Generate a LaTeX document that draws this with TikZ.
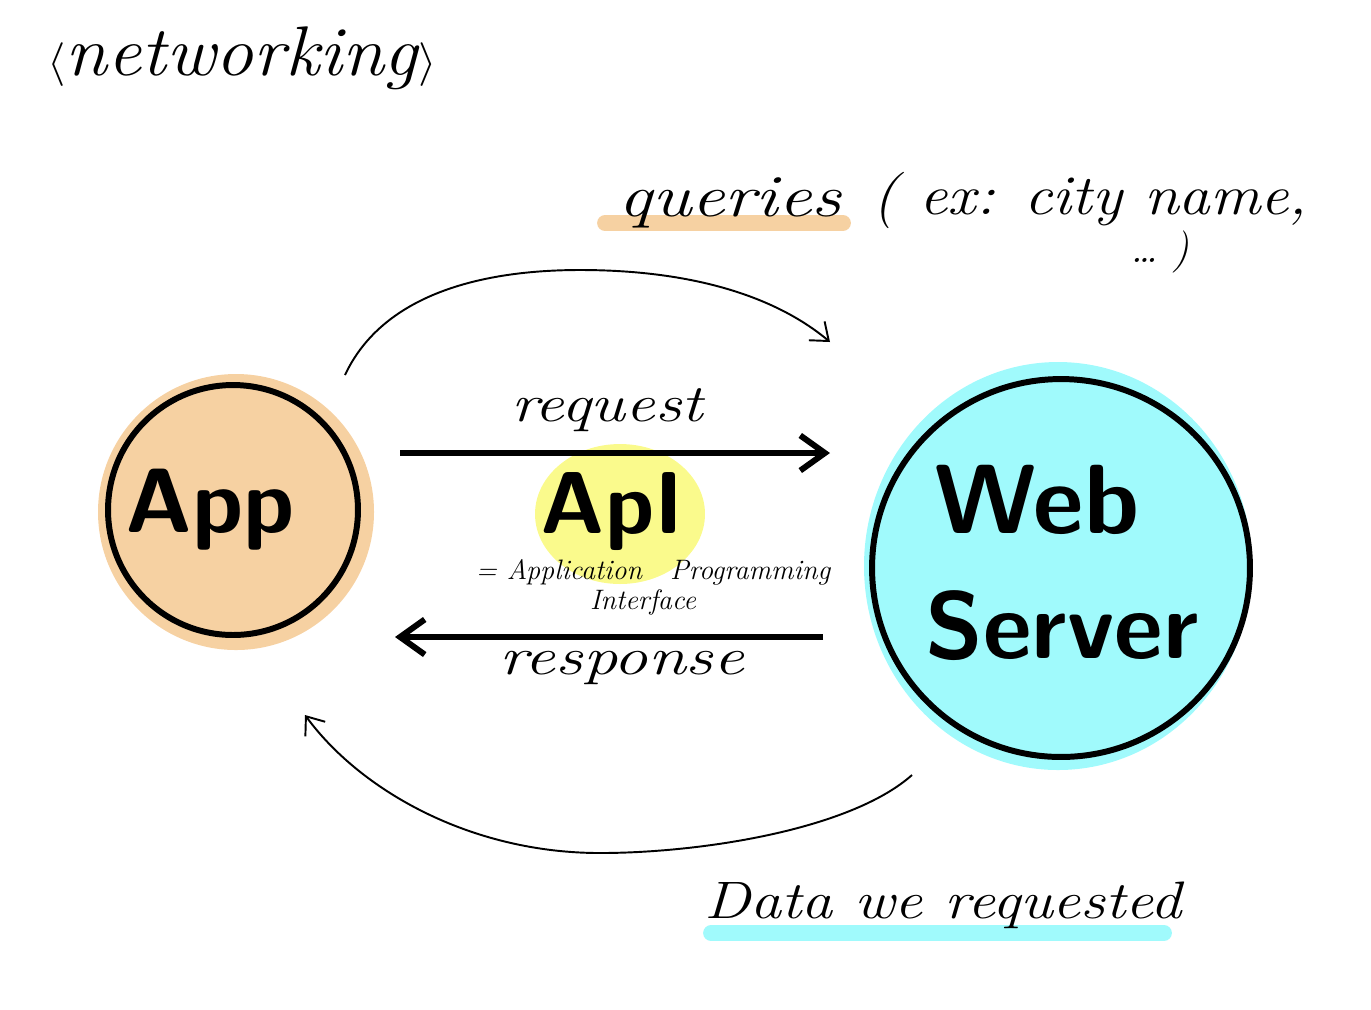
\documentclass[tikz,border=0pt]{standalone}
\usetikzlibrary{arrows.meta, shapes.geometric, positioning, calc}

\definecolor{appfill}{RGB}{246,209,162}
\definecolor{webfill}{RGB}{160,250,252}
\definecolor{apifill}{RGB}{250,250,140}

% handwriting is wider than the font
\newcommand{\wide}[2]{\scalebox{#1}[1]{#2}}

\begin{document}
\begin{tikzpicture}[
    x = 0.02cm, y = -0.02cm,
    every node/.style = {inner sep=0pt},
    bubble/.style = {circle, draw=black, line width=3.4pt},
    big/.style = {font=\sffamily\bfseries\fontsize{56}{62}\selectfont},
    hand/.style = {font=\itshape\fontsize{30}{34}\selectfont},
    small/.style = {font=\itshape\fontsize{16}{18}\selectfont},
    bigarr/.style = {
        -{Straight Barb[length=14pt,width=20pt]},
        line width=3.4pt
    },
    thinarr/.style = {
        -{Straight Barb[length=9pt,width=14pt]},
        line width=1.1pt
    },
    hilite/.style = {line width=9pt, line cap=round}
]
\useasboundingbox (0,0) rectangle (1371,1009);

%% Blobs behind the bubbles
\fill[appfill] (236,512) circle[radius=138];
\fill[webfill] (1058,566) ellipse[x radius=194, y radius=204];
\node[ellipse, fill=apifill, minimum width=3.4cm, minimum height=2.8cm] (apiblob) at (620,514) {};

%% Highlight bars
\draw[hilite, appfill] (605,223) -- (843,223);
\draw[hilite, webfill] (711,933) -- (1164,933);

%% Bubbles
\node[bubble, fill=appfill, minimum size=5cm] (app) at (233,510) {};
\node[bubble, fill=webfill, minimum size=7.56cm] (server) at (1061,568) {};
\node[big, font=\sffamily\bfseries\fontsize{52}{62}\selectfont] (applbl) at (210,510) {App};
\node[big] (weblbl) at (1037,500) {Web};
\node[big, font=\sffamily\bfseries\fontsize{54}{62}\selectfont] (serverlbl) at (1062,626) {Server};

%% Title
\node[font=\itshape\fontsize{40}{44}\selectfont] (title) at (242,58)
    {\wide{1.08}{$\langle$networking$\rangle$}};

%% Labels
\node[hand, font=\itshape\fontsize{34}{38}\selectfont] (queries) at (730,203) {\wide{1.25}{queries}};
\node[hand, font=\itshape\fontsize{32}{36}\selectfont] (example) at (1090,200) {\wide{1.12}{( ex: city name,}};
\node[hand, font=\itshape\fontsize{24}{28}\selectfont] (dots) at (1160,252) {\dots\ )};
\node[hand] (request) at (607,410) {\wide{1.25}{request}};
\node[hand] (response) at (622,668) {\wide{1.3}{response}};
\node[hand] (data) at (943,905) {\wide{1.18}{Data we requested}};

%% API
\node[big, font=\sffamily\bfseries\fontsize{50}{54}\selectfont] (api) at (612,512) {ApI};
\node[small] (apiname) at (653,572) {= Application\quad Programming};
\node[small] (apiiface) at (643,602) {Interface};

%% Ends of the free connectors
\coordinate (req-s) at (400,453);
\coordinate (req-e) at (830,453);
\coordinate (res-s) at (823,637);
\coordinate (res-e) at (395,637);
\coordinate (qry-s) at (345,375);
\coordinate (qry-e) at (830,342);
\coordinate (dat-s) at (912,775);
\coordinate (dat-e) at (305,715);

%% Arrows
\draw[bigarr] (req-s) -- (req-e);
\draw[bigarr] (res-s) -- (res-e);
\draw[thinarr] (qry-s) .. controls (380,300) and (470,270) .. (580,270)
    .. controls (700,270) and (780,300) .. (qry-e);
\draw[thinarr] (dat-s) .. controls (850,830) and (700,853) .. (600,853)
    .. controls (470,853) and (360,790) .. (dat-e);

\end{tikzpicture}
\end{document}
